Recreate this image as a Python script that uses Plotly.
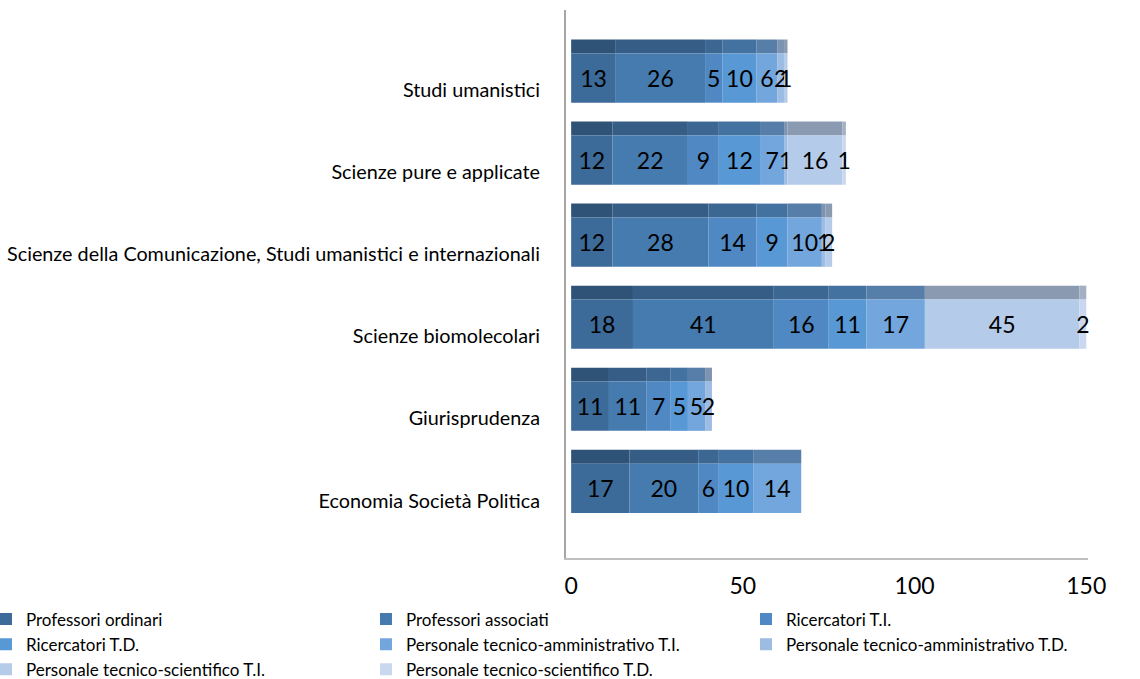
import numpy as np
import plotly.graph_objects as go

categories = [
    "Studi umanistici",
    "Scienze pure e applicate",
    "Scienze della Comunicazione, Studi umanistici e internazionali",
    "Scienze biomolecolari",
    "Giurisprudenza",
    "Economia Società Politica",
]
series_names = [
    "Professori ordinari",
    "Professori associati",
    "Ricercatori T.I.",
    "Ricercatori T.D.",
    "Personale tecnico-amministrativo T.I.",
    "Personale tecnico-amministrativo T.D.",
    "Personale tecnico-scientifico T.I.",
    "Personale tecnico-scientifico T.D.",
]
prof_ordinari = [13, 12, 12, 18, 11, 17]
prof_associati = [26, 22, 28, 41, 11, 20]
ricercatori_ti = [5, 9, 14, 16, 7, 6]
ricercatori_td = [10, 12, 9, 11, 5, 10]
pta_ti = [6, 7, 10, 17, 5, 14]
pta_td = [2, 1, 1, None, 2, None]
pts_ti = [1, 16, 2, 45, None, None]
pts_td = [None, 1, None, 2, None, None]
x_ticks = [0, 50, 100, 150]

series_values = [prof_ordinari, prof_associati, ricercatori_ti, ricercatori_td,
                 pta_ti, pta_td, pts_ti, pts_td]

front_colors = ["#3c6a99", "#467bb0", "#4f88c3", "#5898d4",
                "#72a6dc", "#9dbce4", "#b4cbe9", "#c9d8ef"]
top_colors = ["#2f5277", "#365d86", "#3c6793", "#4372a1",
              "#577ea8", "#7c93b1", "#8a9bb1", "#a3afc2"]

FONT = "Lato"
fig = go.Figure()
base = np.zeros(len(categories))
for name, vals, fc, tc in zip(series_names, series_values, front_colors, top_colors):
    v = np.array([np.nan if x is None else x for x in vals], dtype=float)
    vv = np.nan_to_num(v)
    labels = ["" if x is None else str(x) for x in vals]
    # top face (3D look)
    fig.add_trace(go.Bar(
        y=categories, x=v, base=base.copy(), orientation="h",
        offset=-0.62, width=0.17, marker=dict(color=tc, line=dict(width=0)),
        showlegend=False, hoverinfo="skip", legendgroup=name,
    ))
    # front face
    fig.add_trace(go.Bar(
        y=categories, x=v, base=base.copy(), orientation="h", name=name,
        offset=-0.45, width=0.6, marker=dict(color=fc, line=dict(width=0)),
        text=labels, textposition="inside", insidetextanchor="middle",
        textangle=0, constraintext="none", cliponaxis=False,
        textfont=dict(family=FONT, size=23, color="#000000"),
        legendgroup=name,
    ))
    base = base + vv

# plot area spans 566..1140 px; x axis domain ends at 1088 px
fig.update_layout(
    width=1140, height=679,
    barmode="overlay",
    plot_bgcolor="white", paper_bgcolor="white",
    margin=dict(l=566, r=0, t=10, b=121, autoexpand=False),
    font=dict(family=FONT, size=19, color="#000000"),
    showlegend=True,
    legend=dict(
        orientation="h", xref="paper", yref="paper",
        x=-1.0105, xanchor="left", y=-0.0795, yanchor="top",
        entrywidth=335, entrywidthmode="pixels",
        font=dict(family=FONT, size=17), traceorder="normal",
        itemclick=False, bgcolor="rgba(0,0,0,0)",
    ),
    xaxis=dict(
        domain=[0, 0.9094],
        range=[-1.5, 150.5], tickvals=x_ticks, ticktext=[str(t) for t in x_ticks],
        showgrid=False, zeroline=False, showline=True, linecolor="#bfbfbf", linewidth=2,
        ticks="", tickfont=dict(family=FONT, size=23), ticklabelstandoff=6,
    ),
    yaxis=dict(
        categoryorder="array", categoryarray=categories, autorange=False,
        range=[5.7, -0.98], showgrid=False, zeroline=False, showline=True,
        linecolor="#a6a6a6", linewidth=2, ticks="", ticklabelstandoff=20,
        tickfont=dict(family=FONT, size=19.8),
    ),
)
fig.write_html("out.html")
